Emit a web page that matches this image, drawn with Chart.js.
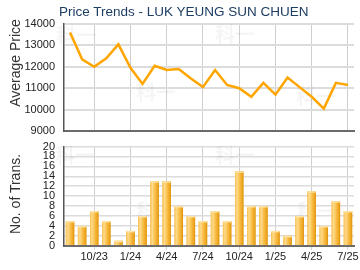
<!DOCTYPE html>
<html>
<head>
<meta charset="utf-8">
<script src="https://cdn.jsdelivr.net/npm/chart.js@4/dist/chart.umd.min.js"></script>
<style>
  body { margin: 0; background: #fff; }
  #wrap { position: relative; width: 360px; height: 270px; overflow: hidden; font-family: "Liberation Sans", Arial, sans-serif; }
  canvas { position: absolute; left: 0; }
  #trans-chart { top: 135px; }
  #price-chart { top: 0; }
  .title { position: absolute; left: 59px; top: 4px; font-size: 13.5px; color: #1d3d63; white-space: nowrap; }
  .ytitle { position: absolute; font-size: 14px; color: #333; white-space: nowrap; transform: translate(-50%, -50%) rotate(-90deg); }
</style>
</head>
<body>
<div id="wrap">
  <canvas id="trans-chart" width="360" height="135"></canvas>
  <canvas id="price-chart" width="360" height="140"></canvas>
  <div class="title">Price Trends - LUK YEUNG SUN CHUEN</div>
  <div class="ytitle" style="left:15px; top:63px;">Average Price</div>
  <div class="ytitle" style="left:15px; top:194px;">No. of Trans.</div>
</div>
<script>
const months = ['8/23', '9/23', '10/23', '11/23', '12/23', '1/24', '2/24', '3/24', '4/24', '5/24', '6/24', '7/24',
  '8/24', '9/24', '10/24', '11/24', '12/24', '1/25', '2/25', '3/25', '4/25', '5/25', '6/25', '7/25'];
const quarterLabels = ['10/23', '1/24', '4/24', '7/24', '10/24', '1/25', '4/25', '7/25'];
const avgPrice = [13600, 12350, 12000, 12400, 13050, 11950, 11200, 12050, 11850, 11900, 11450, 11050,
  11850, 11150, 11000, 10600, 11250, 10700, 11500, 11050, 10600, 10050, 11250, 11150];
const transCount = [5, 4, 7, 5, 1, 3, 6, 13, 13, 8, 6, 5, 7, 5, 15, 8, 8, 3, 2, 6, 11, 4, 9, 7];

const AXIS_LEFT = 64;
const tickFont = { family: '"Liberation Sans", Arial, sans-serif', size: 11 };
const isQuarter = i => quarterLabels.includes(months[i]);

function xAxis(showLabels) {
  return {
    type: 'category',
    offset: true,
    grid: {
      offset: false,
      drawTicks: showLabels,
      tickLength: 4,
      color: ctx => isQuarter(ctx.index) ? '#cfcfcf' : 'rgba(0,0,0,0)',
      lineWidth: 1,
    },
    border: { color: '#6a6a6a', width: 2 },
    ticks: {
      display: showLabels,
      autoSkip: false,
      maxRotation: 0,
      padding: 1,
      color: '#222',
      font: tickFont,
      callback: (v, i) => isQuarter(i) ? months[i] : '',
    },
  };
}

function yAxis(min, max, step, gridWidth) {
  return {
    min, max,
    afterFit: s => { s.width = AXIS_LEFT; },
    // invisible tick marks just push the labels away from the axis
    grid: { drawTicks: true, tickLength: 9, tickColor: 'rgba(0,0,0,0)', color: '#dcdcdc', lineWidth: gridWidth },
    border: { color: '#555', width: 1.5 },
    ticks: { stepSize: step, autoSkip: false, padding: 0, color: '#222', font: tickFont, callback: v => String(v) },
  };
}

// faint site watermark behind the data
const watermark = {
  id: 'watermark',
  beforeDatasetsDraw(chart, args, opts) {
    const ctx = chart.ctx;
    ctx.save();
    ctx.font = 'bold 20px "Noto Sans CJK SC"';
    ctx.fillStyle = 'rgba(0,0,0,0.04)';
    ctx.textAlign = 'center';
    ctx.textBaseline = 'middle';
    opts.spots.forEach(([x, y]) => ctx.fillText('科一', x, y));
    ctx.restore();
  },
};

// orange bars with a vertical-cylinder shading
const barShade = {
  id: 'barShade',
  afterDatasetsDraw(chart) {
    const ctx = chart.ctx;
    chart.getDatasetMeta(0).data.forEach(el => {
      const { x, y, base, width } = el.getProps(['x', 'y', 'base', 'width'], true);
      const l = x - width / 2;
      const g = ctx.createLinearGradient(l, 0, l + width, 0);
      g.addColorStop(0, '#f8c254');
      g.addColorStop(0.25, '#fdda8c');
      g.addColorStop(0.55, '#f9be48');
      g.addColorStop(0.85, '#eda622');
      g.addColorStop(1, '#dc9207');
      ctx.save();
      ctx.fillStyle = g;
      ctx.fillRect(l, y, width, base - y);
      ctx.fillStyle = '#fde3a6';
      ctx.fillRect(l, y, width, 1.5);
      ctx.restore();
    });
  },
};

new Chart(document.getElementById('price-chart'), {
  type: 'line',
  data: {
    labels: months,
    datasets: [{ data: avgPrice, borderColor: '#ffa500', borderWidth: 2.5, pointRadius: 0, tension: 0, fill: false }],
  },
  options: {
    responsive: false,
    animation: false,
    layout: { padding: { left: 0, right: 6, top: 24, bottom: 9 } },
    plugins: {
      legend: { display: false }, tooltip: { enabled: false },
      watermark: { spots: [[76, 35], [156, 92], [235, 34], [316, 96]] },
    },
    scales: { x: xAxis(false), y: yAxis(9000, 14000, 1000, 2) },
  },
  plugins: [watermark],
});

new Chart(document.getElementById('trans-chart'), {
  type: 'bar',
  data: {
    labels: months,
    datasets: [{ data: transCount, backgroundColor: '#f5b53a', barPercentage: 0.7, categoryPercentage: 1.0 }],
  },
  options: {
    responsive: false,
    animation: false,
    layout: { padding: { left: 0, right: 6, top: 11.5, bottom: 5 } },
    plugins: {
      legend: { display: false }, tooltip: { enabled: false },
      watermark: { spots: [[75, 20], [156, 76], [235, 20], [317, 76]] },
    },
    scales: { x: xAxis(true), y: yAxis(0, 20, 2, 1.5) },
  },
  plugins: [watermark, barShade],
});
</script>
</body>
</html>
